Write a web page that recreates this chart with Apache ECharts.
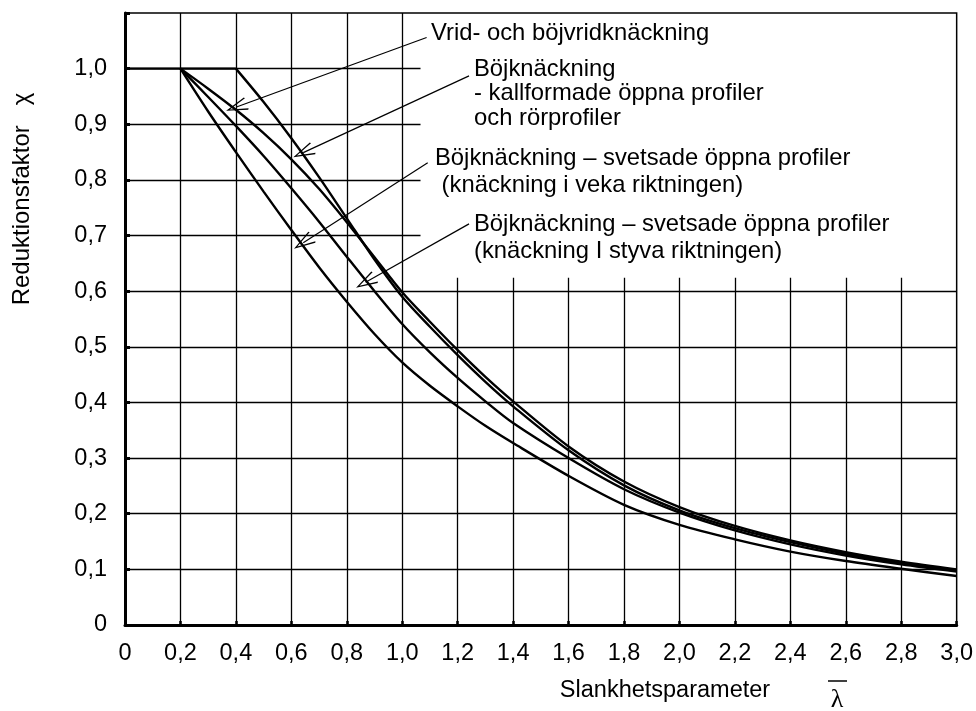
<!DOCTYPE html>
<html><head><meta charset="utf-8">
<script src="https://cdn.jsdelivr.net/npm/echarts@6/dist/echarts.min.js"></script>
<style>html,body{margin:0;padding:0;background:#fff}#c{width:976px;height:711px}</style>
</head><body><div id="c"></div>
<script>
// ---- data ----
const plateauLambda = [0, 0.2];
const plateauChi = [1.0, 1.0];
const plateauVLambda = [0.2, 0.4];
const plateauVChi = [1.0, 1.0];

const lambdaMain = [0.2,0.3,0.4,0.5,0.6,0.7,0.8,0.9,1.0,1.1,1.2,1.3,1.4,1.6,1.8,2.0,2.2,2.4,2.6,2.8,3.0];
// "Vrid- och böjvridknäckning"
const chiVrid  = [1.0,0.964,0.926,0.884,0.837,0.784,0.724,0.661,0.598,0.545,0.494,0.446,0.402,0.321,0.258,0.212,0.178,0.152,0.131,0.114,0.100];
// "Böjknäckning – svetsade öppna profiler (styva riktningen)"
const chiStyva = [1.0,0.949,0.897,0.843,0.785,0.725,0.662,0.600,0.541,0.490,0.444,0.402,0.363,0.300,0.244,0.202,0.170,0.145,0.125,0.109,0.096];
// "Böjknäckning – svetsade öppna profiler (veka riktningen)"
const chiVeka  = [1.0,0.923,0.850,0.779,0.710,0.643,0.581,0.523,0.472,0.430,0.393,0.358,0.327,0.268,0.216,0.180,0.154,0.132,0.115,0.101,0.088];
// "Böjknäckning - kallformade öppna profiler och rörprofiler"
const lambdaKall = [0.4,0.5,0.6,0.7,0.8,0.9,1.0,1.1,1.2,1.3,1.4,1.6,1.8,2.0,2.2,2.4,2.6,2.8,3.0];
const chiKall    = [1.0,0.940,0.875,0.805,0.731,0.657,0.590,0.536,0.485,0.437,0.393,0.314,0.251,0.206,0.174,0.149,0.128,0.111,0.098];

const xTickLabels = ['0','0,2','0,4','0,6','0,8','1,0','1,2','1,4','1,6','1,8','2,0','2,2','2,4','2,6','2,8','3,0'];
const yTickLabels = ['0','0,1','0,2','0,3','0,4','0,5','0,6','0,7','0,8','0,9','1,0',''];

const xGridFull  = [0.2,0.4,0.6,0.8,1.0];
const xGridShort = [1.2,1.4,1.6,1.8,2.0,2.2,2.4,2.6,2.8];
const yGridFull  = [0.1,0.2,0.3,0.4,0.5,0.6];
const yGridShort = [0.7,0.8,0.9,1.0];

// annotation texts and arrows [from(text end) -> to(curve)]
const notes = [
  {lines:['Vrid- och böjvridknäckning'], x:431, y:33},
  {lines:['Böjknäckning','- kallformade öppna profiler','och rörprofiler'], x:474, y:69.5},
  {lines:['Böjknäckning – svetsade öppna profiler',' (knäckning i veka riktningen)'], x:435, y:158.3},
  {lines:['Böjknäckning – svetsade öppna profiler','(knäckning I styva riktningen)'], x:474, y:224}
];
const arrowFrom = [[1.088,1.056],[1.241,0.987],[1.092,0.831],[1.241,0.721]];
const arrowTo   = [[0.402,0.931],[0.643,0.849],[0.643,0.687],[0.868,0.616]];

// ---- layout constants ----
const X_MAX = 3.0, Y_MAX = 1.1;
const SHORT_H_END = 1.066;  // horizontal grid lines stop here in the upper part
const SHORT_V_END = 0.624;  // vertical grid lines stop here in the right part
const FONT = '"Liberation Sans", Arial, sans-serif';

const zip = (xs, ys) => xs.map((x, i) => [x, ys[i]]);

const gridSegs = [];
xGridFull.forEach(x => gridSegs.push([{coord:[x,0]},{coord:[x,Y_MAX]}]));
xGridShort.forEach(x => gridSegs.push([{coord:[x,0]},{coord:[x,SHORT_V_END]}]));
yGridFull.forEach(y => gridSegs.push([{coord:[0,y]},{coord:[X_MAX,y]}]));
yGridShort.forEach(y => gridSegs.push([{coord:[0,y]},{coord:[SHORT_H_END,y]}]));

const arrowSegs = arrowFrom.map((f, i) => [{coord:f},{coord:arrowTo[i]}]);

const curveStyle = {color:'#000', width:2.4};
function curve(name, data, smooth){
  return {name, type:'line', data, showSymbol:false, symbol:'none', smooth:smooth,
          lineStyle:curveStyle, z:5, silent:true, animation:false};
}

const graphics = [];
notes.forEach(n => {
  n.lines.forEach((t, i) => {
    graphics.push({type:'text', x:n.x, y:n.y + i*(n.lines.length===3?24.4:27.6), silent:true,
      style:{text:t, font:'23.8px ' + FONT, fill:'#000', align:'left', verticalAlign:'middle'}});
  });
});
graphics.push({type:'text', x:22, y:199, rotation:Math.PI/2, silent:true,
  style:{text:'Reduktionsfaktor   χ', font:'24px ' + FONT, fill:'#000', align:'center', verticalAlign:'middle'}});
graphics.push({type:'text', x:665, y:691, silent:true,
  style:{text:'Slankhetsparameter', font:'23.5px ' + FONT, fill:'#000', align:'center', verticalAlign:'middle'}});
graphics.push({type:'text', x:837, y:700, silent:true,
  style:{text:'λ', font:'26px "Liberation Serif", serif', fill:'#000', align:'center', verticalAlign:'middle'}});
graphics.push({type:'line', silent:true, shape:{x1:828, y1:681, x2:847, y2:681}, style:{stroke:'#000', lineWidth:1.5}});

const chart = echarts.init(document.getElementById('c'), null, {renderer:'canvas'});
chart.setOption({
  animation:false,
  backgroundColor:'#fff',
  grid:{left:125, right:14, top:13, bottom:86, show:true, borderColor:'#000', borderWidth:1.5, backgroundColor:'transparent'},
  xAxis:{type:'value', min:0, max:X_MAX, interval:0.2,
    axisLine:{show:true, onZero:false, lineStyle:{color:'#000', width:3}},
    axisTick:{show:true, inside:true, length:4, lineStyle:{color:'#000', width:2.5}},
    splitLine:{show:false},
    axisLabel:{color:'#000', fontSize:23.5, fontFamily:FONT, margin:17,
      formatter:v => xTickLabels[Math.round(v/0.2)] ?? ''}},
  yAxis:{type:'value', min:0, max:Y_MAX, interval:0.1,
    axisLine:{show:true, onZero:false, lineStyle:{color:'#000', width:3}},
    axisTick:{show:true, inside:true, length:5, lineStyle:{color:'#000', width:3}},
    splitLine:{show:false},
    axisLabel:{color:'#000', fontSize:23.5, fontFamily:FONT, margin:18,
      formatter:v => yTickLabels[Math.round(v/0.1)] ?? ''}},
  graphic:graphics,
  series:[
    {name:'grid', type:'line', data:[], z:1, silent:true, animation:false,
     markLine:{silent:true, symbol:['none','none'], label:{show:false}, animation:false,
       lineStyle:{color:'#000', width:1.3, type:'solid'}, emphasis:{disabled:true}, data:gridSegs}},
    {name:'arrows', type:'line', data:[], z:6, silent:true, animation:false,
     markLine:{silent:true, symbol:['none','path://M0,0 L6,16 L4.9,16.6 L0,3.0 L-4.9,16.6 L-6,16 Z'],
       symbolSize:[13,22], label:{show:false}, animation:false,
       lineStyle:{color:'#000', width:1.2, type:'solid'}, emphasis:{disabled:true}, data:arrowSegs}},
    curve('plateau', zip(plateauLambda, plateauChi), false),
    curve('plateauV', zip(plateauVLambda, plateauVChi), false),
    curve('Vrid- och böjvridknäckning', zip(lambdaMain, chiVrid), 0.3),
    curve('Styva', zip(lambdaMain, chiStyva), 0.3),
    curve('Veka', zip(lambdaMain, chiVeka), 0.3),
    curve('Kallformade', zip(lambdaKall, chiKall), 0.3)
  ]
});
</script>
</body></html>
